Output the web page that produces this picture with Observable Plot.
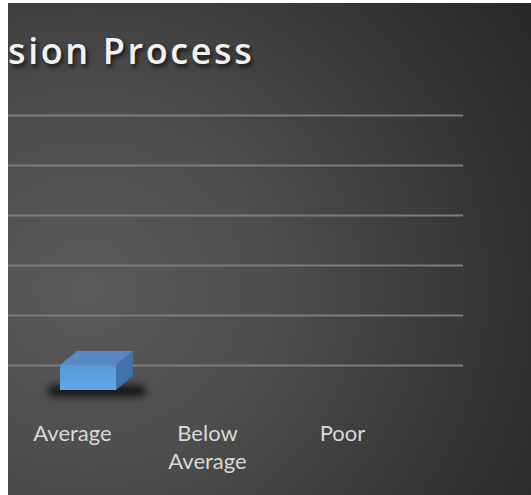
<!DOCTYPE html>
<html>
<head>
<meta charset="utf-8">
<script src="https://cdn.jsdelivr.net/npm/d3@7"></script>
<script src="https://cdn.jsdelivr.net/npm/@observablehq/plot@0.6"></script>
<style>
  html, body { margin: 0; padding: 0; background: #ffffff; width: 531px; height: 495px; overflow: hidden; }
  #chart {
    position: absolute; left: 8px; top: 3px; width: 523px; height: 492px; overflow: hidden;
    background: radial-gradient(ellipse 105% 105% at 15% 58%, #5a5a5a 0%, #4d4d4d 35%, #383838 68%, #262626 100%);
  }
  #title {
    height: 80px; box-sizing: border-box; padding-top: 29px; padding-left: 0px;
    font-family: "Open Sans", sans-serif; font-weight: 600; font-size: 36px; letter-spacing: 2.6px;
    color: #f2f2f2; text-shadow: 2px 3px 4px rgba(0,0,0,0.7); line-height: 37px; white-space: nowrap;
  }
  svg { display: block; background: transparent; }
</style>
</head>
<body>
<div id="chart"><div id="title">sion Process</div></div>
<script>
const categories = ["Average", "Below Average", "Poor"];
const values = [1, 0, 0];
const gridTicks = [0, 2, 4, 6, 8, 10];

const data = categories.map((c, i) => ({cat: c, value: values[i]}));

const depthX = 17, depthY = -14, floorDy = 25;

function render3d(index, scales, vals, dimensions, context) {
  const x = scales.x, y = scales.y;
  const bw = x.bandwidth ? x.bandwidth() : 56;
  const g = d3.create("svg:g");
  const defs = g.append("defs");
  const f = defs.append("filter").attr("id", "shadowBlur").attr("x", "-50%").attr("y", "-100%").attr("width", "200%").attr("height", "300%");
  f.append("feGaussianBlur").attr("stdDeviation", 4);
  const grad = defs.append("linearGradient").attr("id", "frontGrad").attr("x1", 0).attr("y1", 0).attr("x2", 0).attr("y2", 1);
  grad.append("stop").attr("offset", "0%").attr("stop-color", "#5798d8");
  grad.append("stop").attr("offset", "100%").attr("stop-color", "#62a8e8");
  for (const i of index) {
    const d = data[i];
    if (!d.value) continue;
    const x0 = x(d.cat), x1 = x0 + bw;
    const yb = y(0) + floorDy, yt = y(d.value) + floorDy;
    g.append("rect")
      .attr("x", x0 - 12).attr("y", yb - 4).attr("width", bw + 42).attr("height", 10)
      .attr("rx", 5).attr("fill", "rgba(0,0,0,0.85)").attr("filter", "url(#shadowBlur)");
    g.append("path")
      .attr("d", `M${x1},${yt}L${x1 + depthX},${yt + depthY}L${x1 + depthX},${yb + depthY}L${x1},${yb}Z`)
      .attr("fill", "#4073ab");
    g.append("path")
      .attr("d", `M${x0},${yt}L${x1},${yt}L${x1 + depthX},${yt + depthY}L${x0 + depthX},${yt + depthY}Z`)
      .attr("fill", "#5988c2");
    g.append("rect")
      .attr("x", x0).attr("y", yt).attr("width", bw).attr("height", yb - yt)
      .attr("fill", "url(#frontGrad)");
  }
  return g.node();
}

const plot = Plot.plot({
  width: 523,
  height: 412,
  marginLeft: 0,
  marginRight: 68,
  marginTop: 0,
  marginBottom: 75,
  style: {background: "transparent", fontFamily: "Lato, sans-serif", fontSize: "22px", color: "#d9d9d9", overflow: "visible"},
  x: {type: "band", domain: categories, range: [-27, 457], padding: 0.585},
  y: {domain: [0, 10], range: [282, 32]},
  marks: [
    Plot.ruleY(gridTicks, {stroke: "#7c7c7c", strokeWidth: 2}),
    Plot.barY(data, {x: "cat", y: "value", render: render3d}),
    Plot.axisX({tickSize: 0, tickPadding: 0, dx: -16, lineWidth: 5, lineHeight: 1.3, fill: "#d9d9d9", fontSize: 22, label: null}),
    Plot.axisY({ticks: [], label: null})
  ]
});
document.getElementById("chart").appendChild(plot);
</script>
</body>
</html>
